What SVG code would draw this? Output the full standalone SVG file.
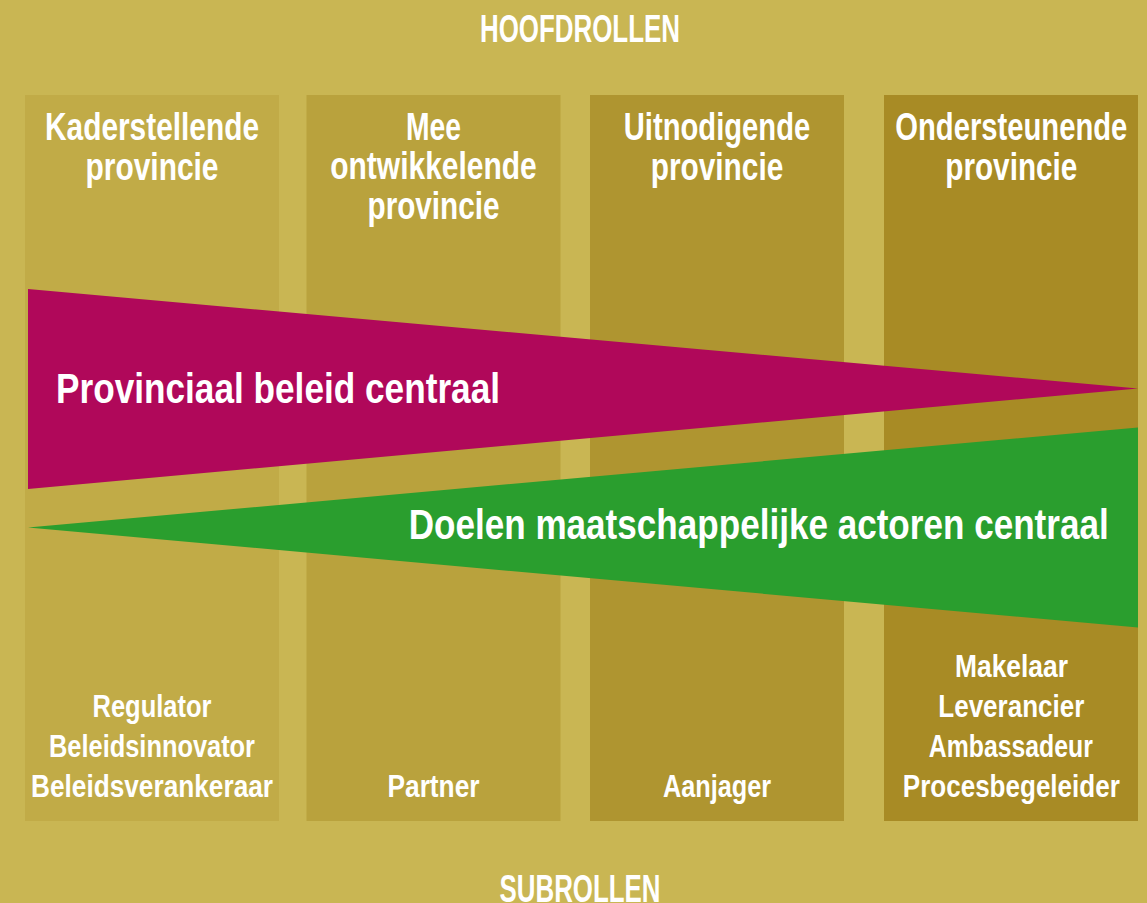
<svg xmlns="http://www.w3.org/2000/svg" width="1147" height="903" viewBox="0 0 1147 903">
  <style>
    .t { font-family: "Liberation Sans Narrow", "Liberation Sans", Arial, sans-serif; font-weight: bold; fill: #ffffff; }
    .h { font-size: 38.5px; text-anchor: middle; }
    .big { font-size: 42px; }
    .sub { font-size: 32px; text-anchor: middle; }
  </style>
  <rect x="0" y="0" width="1147" height="903" fill="#c9b653"/>

  <g id="title-top">
    <text class="t h" x="580" y="41.5" textLength="200" lengthAdjust="spacingAndGlyphs">HOOFDROLLEN</text>
  </g>

  <g id="col-kaderstellende">
    <rect x="25" y="95" width="254" height="726" fill="#c1ab47"/>
    <text class="t h" x="152" y="139.5" textLength="214" lengthAdjust="spacingAndGlyphs">Kaderstellende</text>
    <text class="t h" x="152" y="179.5" textLength="133" lengthAdjust="spacingAndGlyphs">provincie</text>
    <text class="t sub" x="152" y="716.7" textLength="119" lengthAdjust="spacingAndGlyphs">Regulator</text>
    <text class="t sub" x="152" y="756.7" textLength="206" lengthAdjust="spacingAndGlyphs">Beleidsinnovator</text>
    <text class="t sub" x="152" y="796.5" textLength="242" lengthAdjust="spacingAndGlyphs">Beleidsverankeraar</text>
  </g>

  <g id="col-meeontwikkelende">
    <rect x="306.5" y="95" width="254" height="726" fill="#b9a23d"/>
    <text class="t h" x="433.5" y="139.5" textLength="55" lengthAdjust="spacingAndGlyphs">Mee</text>
    <text class="t h" x="433.5" y="179" textLength="206.5" lengthAdjust="spacingAndGlyphs">ontwikkelende</text>
    <text class="t h" x="433.5" y="218.5" textLength="132" lengthAdjust="spacingAndGlyphs">provincie</text>
    <text class="t sub" x="433.5" y="796.5" textLength="92" lengthAdjust="spacingAndGlyphs">Partner</text>
  </g>

  <g id="col-uitnodigende">
    <rect x="590" y="95" width="254" height="726" fill="#af9530"/>
    <text class="t h" x="717" y="139.5" textLength="186.5" lengthAdjust="spacingAndGlyphs">Uitnodigende</text>
    <text class="t h" x="717" y="179.5" textLength="132.5" lengthAdjust="spacingAndGlyphs">provincie</text>
    <text class="t sub" x="717" y="796.7" textLength="108" lengthAdjust="spacingAndGlyphs">Aanjager</text>
  </g>

  <g id="col-ondersteunende">
    <rect x="884" y="95" width="254" height="726" fill="#a88b25"/>
    <text class="t h" x="1011.3" y="139.5" textLength="232" lengthAdjust="spacingAndGlyphs">Ondersteunende</text>
    <text class="t h" x="1011.3" y="179.5" textLength="132" lengthAdjust="spacingAndGlyphs">provincie</text>
    <text class="t sub" x="1011.5" y="676.7" textLength="113" lengthAdjust="spacingAndGlyphs">Makelaar</text>
    <text class="t sub" x="1011.3" y="716.7" textLength="146" lengthAdjust="spacingAndGlyphs">Leverancier</text>
    <text class="t sub" x="1010.8" y="756.7" textLength="164" lengthAdjust="spacingAndGlyphs">Ambassadeur</text>
    <text class="t sub" x="1011.3" y="796.7" textLength="217" lengthAdjust="spacingAndGlyphs">Procesbegeleider</text>
  </g>

  <g id="wedge-provinciaal">
    <polygon points="28,289 1138,388.5 28,489" fill="#b0085a"/>
    <text class="t big" x="56" y="402.7" textLength="444" lengthAdjust="spacingAndGlyphs">Provinciaal beleid centraal</text>
  </g>

  <g id="wedge-doelen">
    <polygon points="28,527.5 1138,427.5 1138,627.5" fill="#2a9e2e"/>
    <text class="t big" x="408.7" y="539.3" textLength="700" lengthAdjust="spacingAndGlyphs">Doelen maatschappelijke actoren centraal</text>
  </g>

  <g id="title-bottom">
    <text class="t h" x="580" y="902" textLength="161" lengthAdjust="spacingAndGlyphs">SUBROLLEN</text>
  </g>
</svg>
